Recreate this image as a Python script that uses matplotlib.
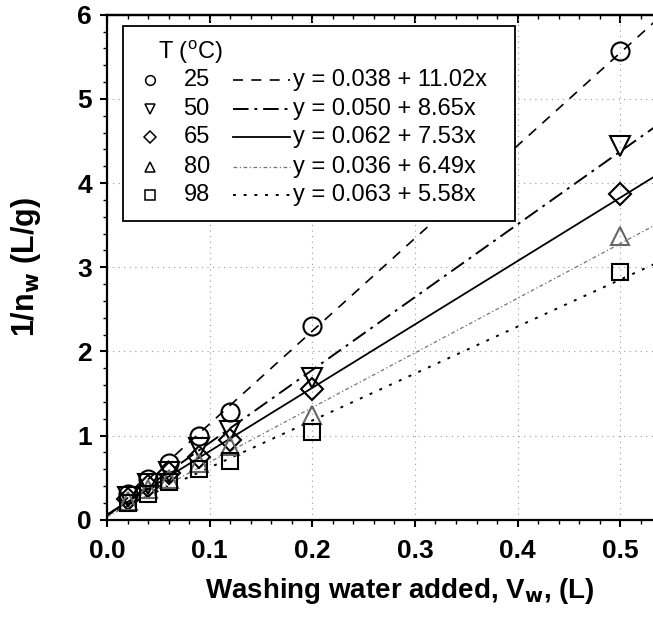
import matplotlib
matplotlib.use('Agg')
import matplotlib.pyplot as plt
from matplotlib.patches import Rectangle
from matplotlib.ticker import MultipleLocator, FormatStrFormatter
import numpy as np

# Data
vw = [0.02, 0.04, 0.06, 0.09, 0.12, 0.20, 0.50]
temps = ['25', '50', '65', '80', '98']
inv_nw = {
    '25': [0.30, 0.48, 0.68, 1.00, 1.28, 2.30, 5.57],
    '50': [0.27, 0.43, 0.57, 0.85, 1.05, 1.68, 4.44],
    '65': [0.25, 0.40, 0.55, 0.75, 0.95, 1.55, 3.87],
    '80': [0.22, 0.36, 0.48, 0.68, 0.88, 1.25, 3.37],
    '98': [0.20, 0.30, 0.45, 0.60, 0.70, 1.04, 2.94],
}
intercepts = [0.038, 0.050, 0.062, 0.036, 0.063]
slopes = [11.02, 8.65, 7.53, 6.49, 5.58]

markers = ['o', 'v', 'D', '^', 's']
msizes = [13, 14, 11, 13, 11]
linestyles = [(0, (6, 5)), (0, (8, 3, 1.5, 3)), '-', (0, (3, 2, 1, 2)), (0, (1.5, 4))]
colors = ['black', 'black', 'black', '0.45', 'black']
lwidths = [1.2, 1.4, 1.3, 0.9, 1.4]

plt.rcParams['font.family'] = ['Liberation Sans', 'DejaVu Sans']

fig = plt.figure(figsize=(6.53, 6.18), dpi=100)
ax = fig.add_axes([0.164, 0.159, 0.836, 0.817])

xfit = np.linspace(0, 0.6, 50)
for i, t in enumerate(temps):
    ax.plot(xfit, intercepts[i] + slopes[i] * xfit, linestyle=linestyles[i],
            color=colors[i], lw=lwidths[i], zorder=2)
    ax.plot(vw, inv_nw[t], linestyle='none', marker=markers[i], ms=msizes[i],
            mfc='none', mec=colors[i] if t != '80' else '0.4', mew=1.5, zorder=3)

ax.set_xlim(0, 0.532)
ax.set_ylim(0, 6)
ax.xaxis.set_major_locator(MultipleLocator(0.1))
ax.xaxis.set_minor_locator(MultipleLocator(0.02))
ax.yaxis.set_major_locator(MultipleLocator(1))
ax.yaxis.set_minor_locator(MultipleLocator(0.2))
ax.xaxis.set_major_formatter(FormatStrFormatter('%.1f'))
ax.tick_params(which='major', direction='out', length=5, width=1.5, labelsize=19)
ax.tick_params(axis='x', which='major', pad=9)
ax.tick_params(axis='y', which='major', pad=6)
ax.tick_params(which='minor', direction='out', length=3, width=1)
for lab in ax.get_xticklabels() + ax.get_yticklabels():
    lab.set_fontweight('bold')

# top ticks point inward
top = ax.secondary_xaxis('top')
top.xaxis.set_major_locator(MultipleLocator(0.1))
top.xaxis.set_minor_locator(MultipleLocator(0.02))
top.tick_params(which='major', direction='in', length=6, width=1.5, labeltop=False)
top.tick_params(which='minor', direction='in', length=3, width=1)
top.spines['top'].set_linewidth(1.6)

ax.spines['right'].set_visible(False)
for s in ['left', 'bottom', 'top']:
    ax.spines[s].set_linewidth(1.6)
ax.grid(True, which='major', linestyle=(0, (1, 4)), color='0.6', lw=0.8)

ax.set_xlabel('Washing water added, V$_\\mathbf{w}$, (L)', fontsize=20, fontweight='bold')
ax.set_ylabel('1/n$_\\mathbf{w}$ (L/g)', fontsize=22, fontweight='bold')
ax.xaxis.set_label_coords(0.537, -0.112)
ax.yaxis.set_label_coords(-0.117, 0.5)

# Hand-built legend box
tr = ax.transAxes
ax.add_patch(Rectangle((0.03, 0.592), 0.718, 0.385, transform=tr, facecolor='white',
                       edgecolor='black', lw=1.3, zorder=5))
ax.text(0.093, 0.927, 'T ($^\\mathregular{o}$C)', transform=tr, fontsize=17, va='center', zorder=6)
row_y = [0.871, 0.814, 0.758, 0.699, 0.643]
for i, t in enumerate(temps):
    y = row_y[i]
    ax.plot([0.078], [y], transform=tr, marker=markers[i], ms=7 if markers[i] != 'D' else 6,
            mfc='none', mec='black', mew=1.1, linestyle='none', zorder=6, clip_on=False)
    ax.text(0.14, y, t, transform=tr, fontsize=17, va='center', zorder=6)
    ax.plot([0.231, 0.335], [y, y], transform=tr, linestyle=linestyles[i], color=colors[i],
            lw=lwidths[i], zorder=6)
    ax.text(0.34, y, f'y = {intercepts[i]:.3f} + {slopes[i]:.2f}x', transform=tr,
            fontsize=17, va='center', zorder=6)

fig.savefig('out.png', dpi=100)
